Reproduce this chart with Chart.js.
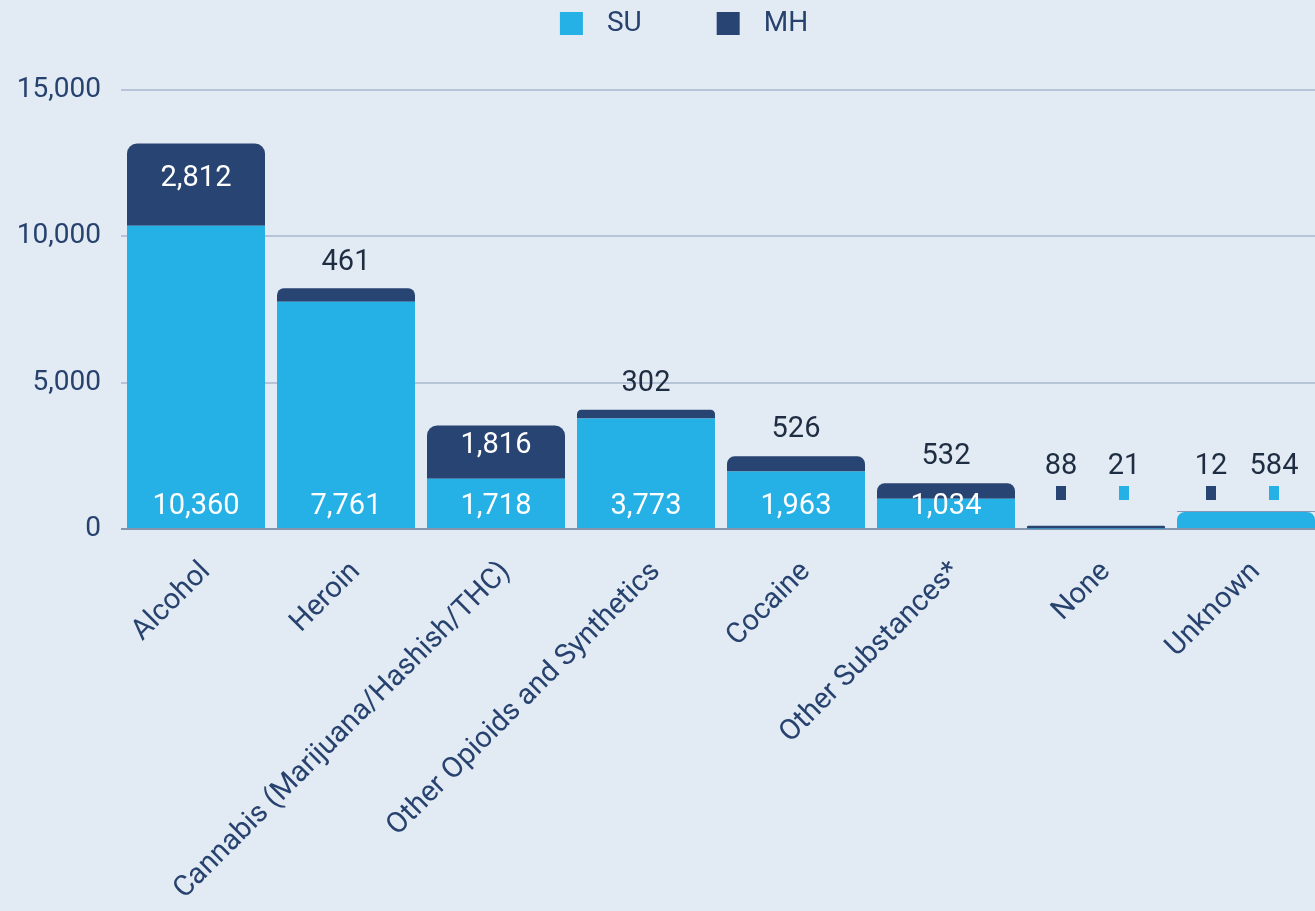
<!DOCTYPE html>
<html>
<head>
<meta charset="utf-8">
<script src="https://cdn.jsdelivr.net/npm/chart.js@4.4.1/dist/chart.umd.min.js"></script>
<style>
  html, body { margin: 0; padding: 0; background: #E2EBF3; overflow: hidden; }
  #chart { display: block; }
</style>
</head>
<body>
<canvas id="chart" width="1321" height="911"></canvas>
<script>
// Dados do gráfico
const categories = ['Alcohol', 'Heroin', 'Cannabis (Marijuana/Hashish/THC)', 'Other Opioids and Synthetics',
    'Cocaine', 'Other Substances*', 'None', 'Unknown'];
const suValues = [10360, 7761, 1718, 3773, 1963, 1034, 21, 584];
const mhValues = [2812, 461, 1816, 302, 526, 532, 88, 12];
const yTicks = [0, 5000, 10000, 15000];

const SU_COLOR = '#25B0E6';
const MH_COLOR = '#284472';
const TEXT_COLOR = '#27426F';
const DARK_LABEL = '#1F2D42';
const FONT = 'Roboto, "Noto Sans", sans-serif';

// Rótulos das barras e legenda
const barLabels = {
    id: 'barLabels',
    afterDatasetsDraw(chart) {
        const ctx = chart.ctx;
        const su = chart.getDatasetMeta(0).data;
        const mh = chart.getDatasetMeta(1).data;
        const base = chart.scales.y.getPixelForValue(0);
        ctx.save();
        ctx.font = '29px ' + FONT;
        ctx.textAlign = 'center';
        ctx.textBaseline = 'middle';
        categories.forEach((c, i) => {
            const x = su[i].x;
            const fmt = v => v.toLocaleString('en-US');
            if (suValues[i] + mhValues[i] < 1000) {
                // valores pequenos: rótulos lado a lado com marcador
                const items = [[x - 35, mhValues[i], MH_COLOR], [x + 28, suValues[i], SU_COLOR]];
                items.forEach(([lx, v, col]) => {
                    ctx.fillStyle = DARK_LABEL;
                    ctx.fillText(fmt(v), lx, base - 62);
                    ctx.fillStyle = col;
                    ctx.fillRect(lx - 5, base - 43, 10, 14);
                });
                return;
            }
            ctx.fillStyle = '#FFFFFF';
            ctx.fillText(fmt(suValues[i]), x, base - 22);
            const segH = mh[i].base - mh[i].y;
            if (segH > 40) {
                ctx.fillStyle = '#FFFFFF';
                ctx.fillText(fmt(mhValues[i]), x, (mh[i].y + mh[i].base) / 2 - 6);
            } else {
                ctx.fillStyle = DARK_LABEL;
                ctx.fillText(fmt(mhValues[i]), x, mh[i].y - 26);
            }
        });

        // legenda
        ctx.font = '28px ' + FONT;
        ctx.textAlign = 'left';
        const entries = chart.data.datasets.map(d => ({ text: d.label, color: d.backgroundColor }));
        const widths = entries.map(e => 23 + 24 + ctx.measureText(e.text).width);
        const total = widths.reduce((a, b) => a + b, 0) + 75 * (entries.length - 1);
        let lx = 684 - total / 2;
        entries.forEach((e, k) => {
            ctx.fillStyle = e.color;
            ctx.fillRect(lx, 12, 23, 23);
            ctx.fillStyle = TEXT_COLOR;
            ctx.fillText(e.text, lx + 47, 24);
            lx += widths[k] + 75;
        });
        ctx.restore();
    }
};

new Chart(document.getElementById('chart'), {
    type: 'bar',
    data: {
        labels: categories,
        datasets: [{
            label: 'SU',
            data: suValues,
            backgroundColor: SU_COLOR,
            // só arredonda quando o MH é praticamente zero
            borderRadius: ctx => (mhValues[ctx.dataIndex] < 50
                ? { topLeft: 10, topRight: 10, bottomLeft: 0, bottomRight: 0 } : 0)
        }, {
            label: 'MH',
            data: mhValues,
            backgroundColor: MH_COLOR,
            borderRadius: 10,
            inflateAmount: ctx => (mhValues[ctx.dataIndex] < 50 ? 0 : 'auto')
        }]
    },
    options: {
        responsive: false,
        animation: false,
        barPercentage: 0.92,
        categoryPercentage: 1,
        layout: { padding: { top: 90, left: 0, right: 0, bottom: 0 } },
        plugins: {
            legend: { display: false },
            tooltip: { enabled: false }
        },
        scales: {
            x: {
                stacked: true,
                grid: { display: false },
                border: { display: false },
                ticks: {
                    color: TEXT_COLOR,
                    font: { family: FONT, size: 29 },
                    minRotation: 45,
                    maxRotation: 45,
                    padding: 18,
                    labelOffset: 10
                },
                afterFit(scale) { scale.height = 382; }
            },
            y: {
                stacked: true,
                min: 0,
                max: 15000,
                afterBuildTicks(scale) { scale.ticks = yTicks.map(v => ({ value: v })); },
                grid: {
                    color: ctx => (ctx.tick && ctx.tick.value === 0 ? '#8595AD' : '#B7C4D7'),
                    lineWidth: 2,
                    drawTicks: false
                },
                border: { display: false },
                ticks: {
                    color: TEXT_COLOR,
                    font: { family: FONT, size: 28 },
                    padding: 20,
                    callback: v => v.toLocaleString('en-US')
                },
                afterFit(scale) { scale.width = 121; }
            }
        }
    },
    plugins: [barLabels]
});
</script>
</body>
</html>
